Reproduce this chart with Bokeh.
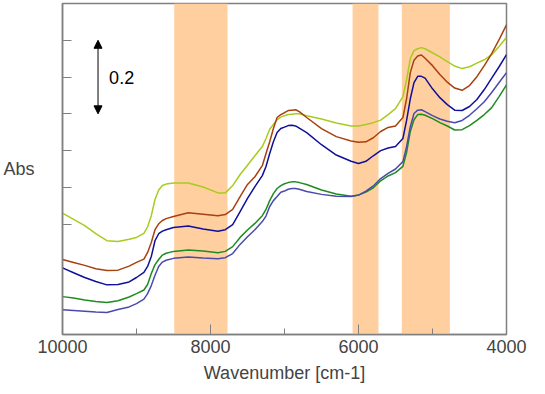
from bokeh.plotting import figure
from bokeh.models import Range1d, SingleIntervalTicker, FixedTicker, BoxAnnotation, Arrow, NormalHead
from bokeh.core.properties import value
from bokeh.embed import file_html
from bokeh.resources import INLINE

wavenumber = [10000, 9850, 9700, 9550, 9400, 9250, 9100, 9000, 8900, 8850,
              8800, 8750, 8700, 8650, 8600, 8500, 8300, 8100, 7900, 7800,
              7700, 7600, 7500, 7400, 7300, 7250, 7200, 7150, 7100, 7050,
              7000, 6950, 6900, 6850, 6800, 6700, 6500, 6300, 6100, 6000,
              5900, 5800, 5700, 5600, 5500, 5400, 5350, 5300, 5250, 5200,
              5150, 5100, 5000, 4900, 4800, 4700, 4600, 4500, 4400, 4300,
              4200, 4100, 4000]

abs_lime = [0.330, 0.313, 0.296, 0.274, 0.255, 0.253, 0.259, 0.264, 0.275, 0.293,
            0.323, 0.367, 0.393, 0.405, 0.409, 0.412, 0.412, 0.401, 0.385, 0.385,
            0.405, 0.435, 0.460, 0.486, 0.511, 0.533, 0.558, 0.571, 0.584, 0.591,
            0.595, 0.598, 0.599, 0.600, 0.600, 0.595, 0.586, 0.575, 0.567, 0.567,
            0.571, 0.576, 0.583, 0.598, 0.614, 0.647, 0.693, 0.750, 0.772, 0.777,
            0.780, 0.777, 0.766, 0.755, 0.742, 0.730, 0.723, 0.728, 0.738, 0.747,
            0.761, 0.783, 0.808]

abs_brown = [0.204, 0.196, 0.188, 0.179, 0.174, 0.175, 0.186, 0.196, 0.205, 0.223,
             0.250, 0.285, 0.301, 0.310, 0.315, 0.321, 0.331, 0.327, 0.323, 0.326,
             0.340, 0.375, 0.408, 0.429, 0.459, 0.492, 0.524, 0.560, 0.590, 0.598,
             0.603, 0.609, 0.610, 0.611, 0.606, 0.590, 0.560, 0.538, 0.526, 0.523,
             0.524, 0.535, 0.552, 0.563, 0.567, 0.590, 0.641, 0.712, 0.746, 0.757,
             0.760, 0.751, 0.731, 0.707, 0.686, 0.670, 0.664, 0.677, 0.701, 0.731,
             0.764, 0.802, 0.842]

abs_navy = [0.181, 0.168, 0.155, 0.144, 0.135, 0.136, 0.143, 0.155, 0.169, 0.185,
            0.212, 0.255, 0.274, 0.281, 0.285, 0.291, 0.295, 0.287, 0.281, 0.285,
            0.299, 0.334, 0.370, 0.402, 0.432, 0.457, 0.492, 0.524, 0.549, 0.560,
            0.564, 0.568, 0.569, 0.567, 0.561, 0.549, 0.516, 0.488, 0.471, 0.465,
            0.471, 0.486, 0.500, 0.507, 0.511, 0.533, 0.582, 0.641, 0.685, 0.702,
            0.702, 0.697, 0.668, 0.644, 0.625, 0.610, 0.609, 0.620, 0.639, 0.666,
            0.697, 0.728, 0.761]

abs_green = [0.103, 0.099, 0.094, 0.090, 0.087, 0.092, 0.102, 0.111, 0.121, 0.136,
             0.166, 0.190, 0.204, 0.216, 0.221, 0.226, 0.230, 0.227, 0.222, 0.226,
             0.239, 0.264, 0.284, 0.302, 0.323, 0.340, 0.364, 0.383, 0.397, 0.405,
             0.410, 0.413, 0.415, 0.415, 0.413, 0.408, 0.393, 0.382, 0.376, 0.379,
             0.387, 0.399, 0.418, 0.431, 0.440, 0.457, 0.495, 0.552, 0.584, 0.598,
             0.599, 0.596, 0.587, 0.576, 0.567, 0.556, 0.557, 0.568, 0.582, 0.598,
             0.617, 0.647, 0.679]

abs_slate = [0.067, 0.065, 0.063, 0.061, 0.060, 0.068, 0.075, 0.084, 0.096, 0.111,
             0.133, 0.161, 0.185, 0.197, 0.202, 0.207, 0.211, 0.208, 0.206, 0.209,
             0.220, 0.245, 0.266, 0.285, 0.307, 0.322, 0.348, 0.364, 0.375, 0.387,
             0.390, 0.395, 0.397, 0.397, 0.395, 0.389, 0.381, 0.376, 0.375, 0.379,
             0.390, 0.404, 0.424, 0.438, 0.450, 0.470, 0.511, 0.565, 0.601, 0.610,
             0.611, 0.606, 0.595, 0.586, 0.580, 0.576, 0.582, 0.596, 0.614, 0.633,
             0.658, 0.685, 0.712]

series = [
    (abs_lime, "#A8CC1E"),
    (abs_brown, "#A8400F"),
    (abs_navy, "#10109A"),
    (abs_green, "#1E8C1E"),
    (abs_slate, "#4A4AAE"),
]

band_start = [8490, 6080, 5415]
band_end = [7770, 5730, 4765]

y_ticks = [0.3, 0.4, 0.5, 0.6, 0.7, 0.8]

scale_bar_x = 9520
scale_bar_y = [0.6, 0.8]
scale_bar_label = "0.2"

FONT = "Liberation Sans"
GRAY = "#808080"

p = figure(width=540, height=390, output_backend="svg", toolbar_location=None,
           x_range=Range1d(10000, 4000), y_range=Range1d(0, 0.9),
           min_border_left=60, min_border_right=34, min_border_top=3, min_border_bottom=56)

p.grid.visible = False
p.outline_line_color = GRAY
p.outline_line_width = 1.5
p.background_fill_color = "white"
p.border_fill_color = "white"

for s, e in zip(band_start, band_end):
    p.add_layout(BoxAnnotation(left=s, right=e, fill_color="#FFCFA0", fill_alpha=1.0,
                               line_alpha=0, level="underlay"))

for vals, col in series:
    p.line(wavenumber, vals, line_color=col, line_width=1.5, line_join="round")

p.add_layout(Arrow(x_start=scale_bar_x, y_start=scale_bar_y[0], x_end=scale_bar_x, y_end=scale_bar_y[1],
                   line_color="black", line_width=1,
                   start=NormalHead(size=8, fill_color="black", line_color="black"),
                   end=NormalHead(size=8, fill_color="black", line_color="black")))
p.text(x=[9370], y=[(scale_bar_y[0] + scale_bar_y[1]) / 2], text=[scale_bar_label],
       text_font=value(FONT), text_font_size="18px", text_baseline="middle", text_align="left",
       text_color="black")

xa = p.xaxis[0]
xa.ticker = SingleIntervalTicker(interval=2000, num_minor_ticks=2)
xa.axis_label = "Wavenumber [cm-1]"
xa.axis_label_text_font = FONT
xa.axis_label_text_font_size = "18px"
xa.axis_label_text_font_style = "normal"
xa.axis_label_standoff = 7
xa.major_label_text_font = FONT
xa.major_label_text_font_size = "18px"
xa.major_label_standoff = 5
xa.axis_line_color = GRAY
xa.axis_line_width = 1.5
xa.major_tick_line_color = GRAY
xa.minor_tick_line_color = GRAY
xa.major_tick_in = 10
xa.major_tick_out = 0
xa.minor_tick_in = 6
xa.minor_tick_out = 0

ya = p.yaxis[0]
ya.ticker = FixedTicker(ticks=y_ticks, minor_ticks=[])
ya.major_label_overrides = {t: "" for t in y_ticks}
ya.major_label_standoff = 0
ya.axis_label = "Abs"
ya.axis_label_orientation = "horizontal"
ya.axis_label_text_font = FONT
ya.axis_label_text_font_size = "18px"
ya.axis_label_text_font_style = "normal"
ya.axis_label_standoff = 28
ya.axis_line_color = GRAY
ya.axis_line_width = 1.5
ya.major_tick_line_color = GRAY
ya.major_tick_in = 9
ya.major_tick_out = 0
ya.minor_tick_line_alpha = 0

open("out.html", "w").write(file_html(p, INLINE))
